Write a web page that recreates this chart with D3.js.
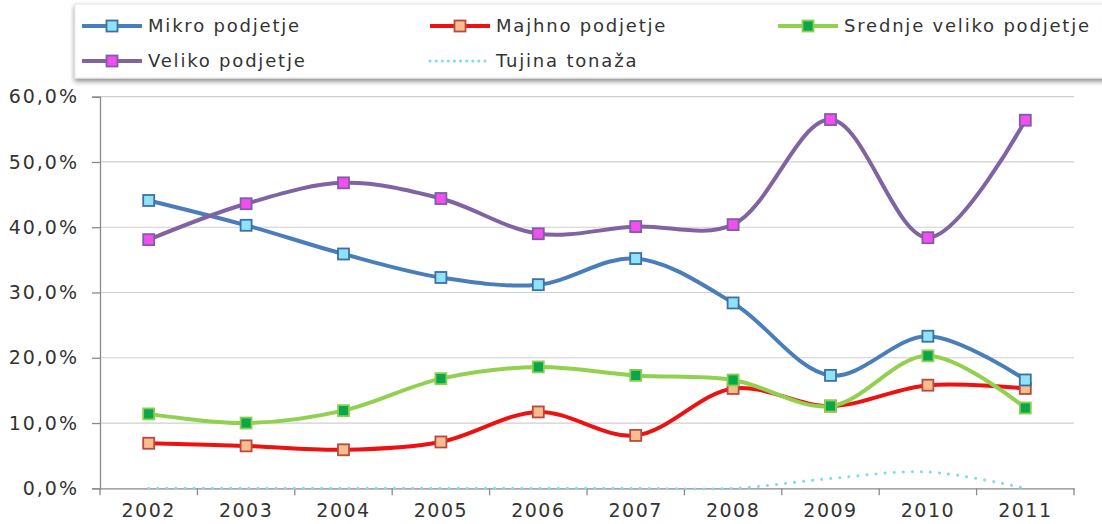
<!DOCTYPE html>
<html>
<head>
<meta charset="utf-8">
<script src="https://cdn.jsdelivr.net/npm/d3@7/dist/d3.min.js"></script>
<style>
  html, body { margin: 0; padding: 0; background: #fff; overflow: hidden; }
  svg text { font-family: "DejaVu Sans", sans-serif; fill: #333; }
</style>
</head>
<body>
<div id="chart"></div>
<script>
// data
var years = ["2002","2003","2004","2005","2006","2007","2008","2009","2010","2011"];
var mikro   = [44.1, 40.3, 35.9, 32.3, 31.2, 35.2, 28.4, 17.3, 23.3, 16.6];
var majhno  = [6.9, 6.5, 5.9, 7.1, 11.7, 8.1, 15.3, 12.6, 15.8, 15.3];
var srednje = [11.4, 10.0, 11.9, 16.8, 18.6, 17.3, 16.6, 12.6, 20.3, 12.3];
var veliko  = [38.1, 43.6, 46.8, 44.4, 39.0, 40.1, 40.4, 56.5, 38.4, 56.4];
var tujina  = [0, 0, 0, 0, 0, 0, 0, 1.5, 2.5, 0];
var yTicks  = [0, 10, 20, 30, 40, 50, 60];

var series = [
  {name:"Mikro podjetje", values:mikro, line:"#4a7ebb", fill:"#8fe3f7", stroke:"#3d6fa8", marker:true},
  {name:"Majhno podjetje", values:majhno, line:"#ee1111", fill:"#f9bd8f", stroke:"#b84a3e", marker:true},
  {name:"Srednje veliko podjetje", values:srednje, line:"#92d050", fill:"#0aa64a", stroke:"#8ccf50", marker:true},
  {name:"Veliko podjetje", values:veliko, line:"#8064a2", fill:"#f24ef0", stroke:"#7e5ea6", marker:true},
  {name:"Tujina tonaža", values:tujina, line:"#7fdcea", dotted:true, marker:false}
];

var W = 1102, H = 524;
var margin = {left:100, right:28, top:96.7, bottom:35.7};

var svg = d3.select("#chart").append("svg").attr("width", W).attr("height", H);

var x = d3.scaleBand().domain(years).range([margin.left, W - margin.right]);
var y = d3.scaleLinear().domain([0, 60]).range([H - margin.bottom, margin.top]);

// legend box with shadow
var defs = svg.append("defs");
var f = defs.append("filter").attr("id","shadow").attr("x","-5%").attr("y","-20%").attr("width","110%").attr("height","160%");
f.append("feDropShadow").attr("dx",0).attr("dy",3).attr("stdDeviation",2.5).attr("flood-color","#000").attr("flood-opacity",0.45);

svg.append("rect").attr("x",75).attr("y",4).attr("width",1040).attr("height",74)
  .attr("fill","#fff").attr("stroke","#e4e4e4").attr("filter","url(#shadow)");

// grid
svg.append("g").selectAll("line").data(yTicks.filter(function(d){ return d > 0; })).enter().append("line")
  .attr("x1", margin.left).attr("x2", W - margin.right)
  .attr("y1", function(d){ return y(d); }).attr("y2", function(d){ return y(d); })
  .attr("stroke","#cfcfcf").attr("stroke-width",1.2);

// y axis
var yAxis = svg.append("g").attr("transform","translate(" + margin.left + ",0)")
  .call(d3.axisLeft(y).tickValues(yTicks).tickSize(8).tickPadding(13)
    .tickFormat(function(d){ return d.toFixed(1).replace(".", ",") + "%"; }));
yAxis.select(".domain").attr("stroke","#8a8a8a").attr("stroke-width",1.3);
yAxis.selectAll(".tick line").attr("stroke","#8a8a8a").attr("stroke-width",1.3);
yAxis.selectAll("text").style("font-size","19px").style("letter-spacing","2px").attr("fill","#333");

// x axis
var xAxis = svg.append("g").attr("transform","translate(0," + y(0) + ")")
  .call(d3.axisBottom(x).tickSize(0).tickPadding(15));
xAxis.select(".domain").attr("stroke","#8a8a8a").attr("stroke-width",1.3);
xAxis.selectAll("text").style("font-size","19px").style("letter-spacing","1.5px").attr("fill","#333");
// tick marks between categories
xAxis.selectAll("line.sep").data(years.concat(["end"])).enter().append("line").attr("class","sep")
  .attr("x1", function(d, i){ return margin.left + i * x.step(); })
  .attr("x2", function(d, i){ return margin.left + i * x.step(); })
  .attr("y1", 0).attr("y2", 7).attr("stroke","#8a8a8a").attr("stroke-width",1.3);

var line = d3.line()
  .x(function(d, i){ return x(years[i]) + x.bandwidth() / 2; })
  .y(function(d){ return y(d); })
  .curve(d3.curveCatmullRom.alpha(0.5));

// draw series: tujina first so it sits under
var order = [4, 1, 2, 0, 3];
order.forEach(function(k){
  var s = series[k];
  svg.append("path").datum(s.values)
    .attr("d", line).attr("fill","none")
    .attr("stroke", s.line)
    .attr("stroke-width", s.dotted ? 3 : 4)
    .attr("stroke-linecap", s.dotted ? "round" : "butt")
    .attr("stroke-dasharray", s.dotted ? "0.1,9" : null);
});
order.forEach(function(k){
  var s = series[k];
  if (!s.marker) return;
  svg.append("g").selectAll("rect").data(s.values).enter().append("rect")
    .attr("x", function(d, i){ return x(years[i]) + x.bandwidth() / 2 - 5.5; })
    .attr("y", function(d){ return y(d) - 5.5; })
    .attr("width", 11).attr("height", 11)
    .attr("fill", s.fill).attr("stroke", s.stroke).attr("stroke-width", 1.8);
});

// legend entries
var legendPos = [
  {x:82, y:26}, {x:430, y:26}, {x:778, y:26}, {x:82, y:61}, {x:430, y:61}
];
series.forEach(function(s, i){
  var p = legendPos[i];
  var g = svg.append("g").attr("transform","translate(" + p.x + "," + p.y + ")");
  g.append("line").attr("x1",0).attr("x2",60).attr("y1",0).attr("y2",0)
    .attr("stroke", s.line).attr("stroke-width", s.dotted ? 3 : 4)
    .attr("stroke-linecap", s.dotted ? "round" : "butt")
    .attr("stroke-dasharray", s.dotted ? "0.1,6" : null);
  if (s.marker) {
    g.append("rect").attr("x",24.5).attr("y",-5.5).attr("width",11).attr("height",11)
      .attr("fill", s.fill).attr("stroke", s.stroke).attr("stroke-width",1.8);
  }
  g.append("text").attr("x",66).attr("y",0).attr("dy","0.35em")
    .style("font-size","18px").style("letter-spacing","1.8px").attr("fill","#333").text(s.name);
});
</script>
</body>
</html>
